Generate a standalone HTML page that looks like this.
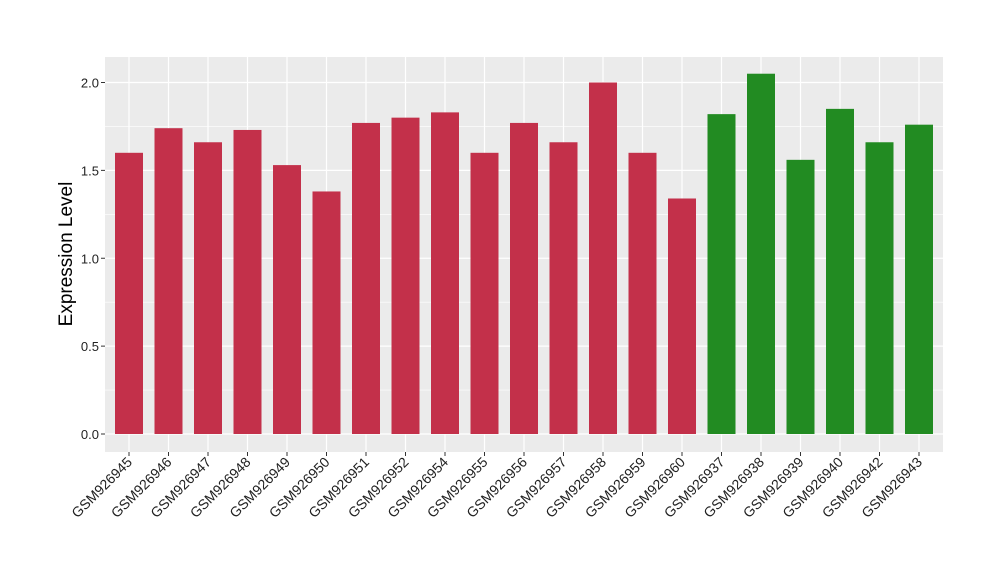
<!DOCTYPE html>
<html><head><meta charset="utf-8"><style>body{margin:0;background:#fff}svg{display:block}</style></head>
<body>
<svg id="chart" width="1000" height="580" xmlns="http://www.w3.org/2000/svg" font-family="Liberation Sans, sans-serif">
<rect x="105" y="57" width="838" height="395" fill="#ebebeb"/>
<g id="grid"></g><g id="bars"></g><g id="axes"></g>
<text transform="translate(72,254) rotate(-90)" text-anchor="middle" font-size="19" fill="#000">Expression Level</text>
</svg>
<script>
const categories=["GSM926945","GSM926946","GSM926947","GSM926948","GSM926949","GSM926950","GSM926951","GSM926952","GSM926954","GSM926955","GSM926956","GSM926957","GSM926958","GSM926959","GSM926960","GSM926937","GSM926938","GSM926939","GSM926940","GSM926942","GSM926943"];
const values=[1.60,1.74,1.66,1.73,1.53,1.38,1.77,1.80,1.83,1.60,1.77,1.66,2.00,1.60,1.34,1.82,2.05,1.56,1.85,1.66,1.76];
const groups=["a","a","a","a","a","a","a","a","a","a","a","a","a","a","a","b","b","b","b","b","b"];
const yTicks=[0,0.5,1.0,1.5,2.0];
const yTickLabels=["0.0","0.5","1.0","1.5","2.0"];
const NS="http://www.w3.org/2000/svg";
const colors={a:"#c3304a",b:"#228b22"};
const y=v=>434-v*175.75;
const step=(919-129)/(categories.length-1);
const x=i=>129+i*step;
const grid=document.getElementById('grid'),bars=document.getElementById('bars'),axes=document.getElementById('axes');
function mk(tag,attrs,parent){const e=document.createElementNS(NS,tag);for(const k in attrs)e.setAttribute(k,attrs[k]);parent.appendChild(e);return e;}
for(let k=0;k<yTicks.length-1;k++){const v=(yTicks[k]+yTicks[k+1])/2;const l=mk('line',{x1:105,x2:943,y1:y(v),y2:y(v),stroke:'#fff','stroke-width':0.6},grid);

}
yTicks.forEach((v,k)=>{const l=mk('line',{x1:105,x2:943,y1:y(v),y2:y(v),stroke:'#fff','stroke-width':1.2},grid);


const t=mk('line',{x1:101,x2:105,y1:y(v),y2:y(v),stroke:'#333','stroke-width':1},axes);


const tx=mk('text',{x:99,y:y(v)+5,'text-anchor':'end','font-size':13,fill:'#222'},axes);tx.textContent=yTickLabels[k];

});
categories.forEach((c,i)=>{const g=mk('line',{x1:x(i),x2:x(i),y1:57,y2:452,stroke:'#fff','stroke-width':1.2},grid);


const b=mk('rect',{x:x(i)-14,y:y(values[i]),width:28,height:434-y(values[i]),fill:colors[groups[i]]},bars);


const t=mk('line',{x1:x(i),x2:x(i),y1:452,y2:456,stroke:'#333','stroke-width':1},axes);


const tx=mk('text',{transform:`translate(${x(i)+4},${463}) rotate(-45)`,'text-anchor':'end','font-size':14,fill:'#222'},axes);tx.textContent=c;

});
</script>
</body></html>
